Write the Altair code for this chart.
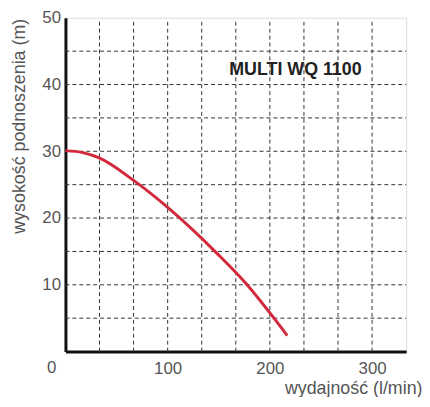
import altair as alt
import pandas as pd

# Pump curve
flow = [0, 17, 33, 67, 100, 149, 176, 204, 217]
head = [30.1, 29.8, 29.0, 25.6, 21.6, 14.6, 10.3, 5.0, 2.4]

x_grid = [100 / 3 * k for k in range(1, 10)]
y_grid = [5, 10, 15, 20, 25, 30, 35, 40, 45]
x_ticks = [100, 200, 300]
y_ticks = [10, 20, 30, 40, 50]

label_text = ["MULTI WQ 1100"]
label_x = [225]
label_y = [42.2]

zero_label = ["0"]

X_MAX = 1000 / 3
Y_MAX = 50

curve = pd.DataFrame({"q": flow, "h": head})
FONT = "Liberation Sans"

x_scale = alt.Scale(domain=[0, X_MAX], nice=False, zero=True)
y_scale = alt.Scale(domain=[0, Y_MAX], nice=False)

vgrid = alt.Chart(pd.DataFrame({"x": x_grid, "y0": [0] * len(x_grid), "y1": [Y_MAX - 0.6] * len(x_grid)})).mark_rule(
    color="#333", strokeWidth=1, strokeDash=[4, 3]
).encode(x=alt.X("x:Q", scale=x_scale), y=alt.Y("y0:Q", scale=y_scale), y2="y1:Q")

hgrid = alt.Chart(pd.DataFrame({"y": y_grid, "x0": [0] * len(y_grid), "x1": [X_MAX] * len(y_grid)})).mark_rule(
    color="#333", strokeWidth=1, strokeDash=[4, 3]
).encode(y=alt.Y("y:Q", scale=y_scale), x=alt.X("x0:Q", scale=x_scale), x2="x1:Q")

line = alt.Chart(curve).mark_line(color="#d22a3c", strokeWidth=3, interpolate="monotone").encode(
    x=alt.X("q:Q", scale=x_scale, axis=alt.Axis(
        values=x_ticks, format="d", grid=False, labelOverlap=False,
        domain=True, domainColor="#111", domainWidth=3,
        ticks=False, tickSize=0, labelPadding=9,
        labelFont=FONT, labelFontSize=17, labelColor="#555",
        title="wydajność (l/min)", titleFont=FONT, titleFontSize=18, titleFontWeight="normal",
        titleColor="#555", titleX=360, titleY=37, titleAlign="right", titleBaseline="middle",
    )),
    y=alt.Y("h:Q", scale=y_scale, axis=alt.Axis(
        values=y_ticks, format="d", grid=False, labelOverlap=False,
        domain=True, domainColor="#111", domainWidth=3,
        ticks=False, tickSize=0, labelPadding=5,
        labelFont=FONT, labelFontSize=17, labelColor="#555",
        title="wysokość podnoszenia (m)", titleFont=FONT, titleFontSize=18, titleFontWeight="normal",
        titleColor="#555", titleX=-46, titleY=109, titleAngle=-90, titleAlign="center",
        titleBaseline="middle",
    )),
)

name = alt.Chart(pd.DataFrame({"t": label_text, "x": label_x, "y": label_y})).mark_text(
    font=FONT, fontSize=18, fontWeight="bold", color="#222", align="center", baseline="middle"
).encode(x=alt.X("x:Q", scale=x_scale), y=alt.Y("y:Q", scale=y_scale), text="t:N")

zero = alt.Chart(pd.DataFrame({"t": zero_label, "x": [0], "y": [0]})).mark_text(
    font=FONT, fontSize=17, color="#555", align="center", baseline="middle", dx=-14, dy=17
).encode(x=alt.X("x:Q", scale=x_scale), y=alt.Y("y:Q", scale=y_scale), text="t:N")

chart = alt.layer(hgrid, vgrid, line, name, zero).properties(
    width=344, height=337,
    autosize=alt.AutoSizeParams(type="none"),
    padding={"left": 58, "top": 8, "right": 16, "bottom": 44},
).configure_view(stroke=None).configure(background="white")

chart.save("out.html", embed_options={"renderer": "svg", "actions": False})
